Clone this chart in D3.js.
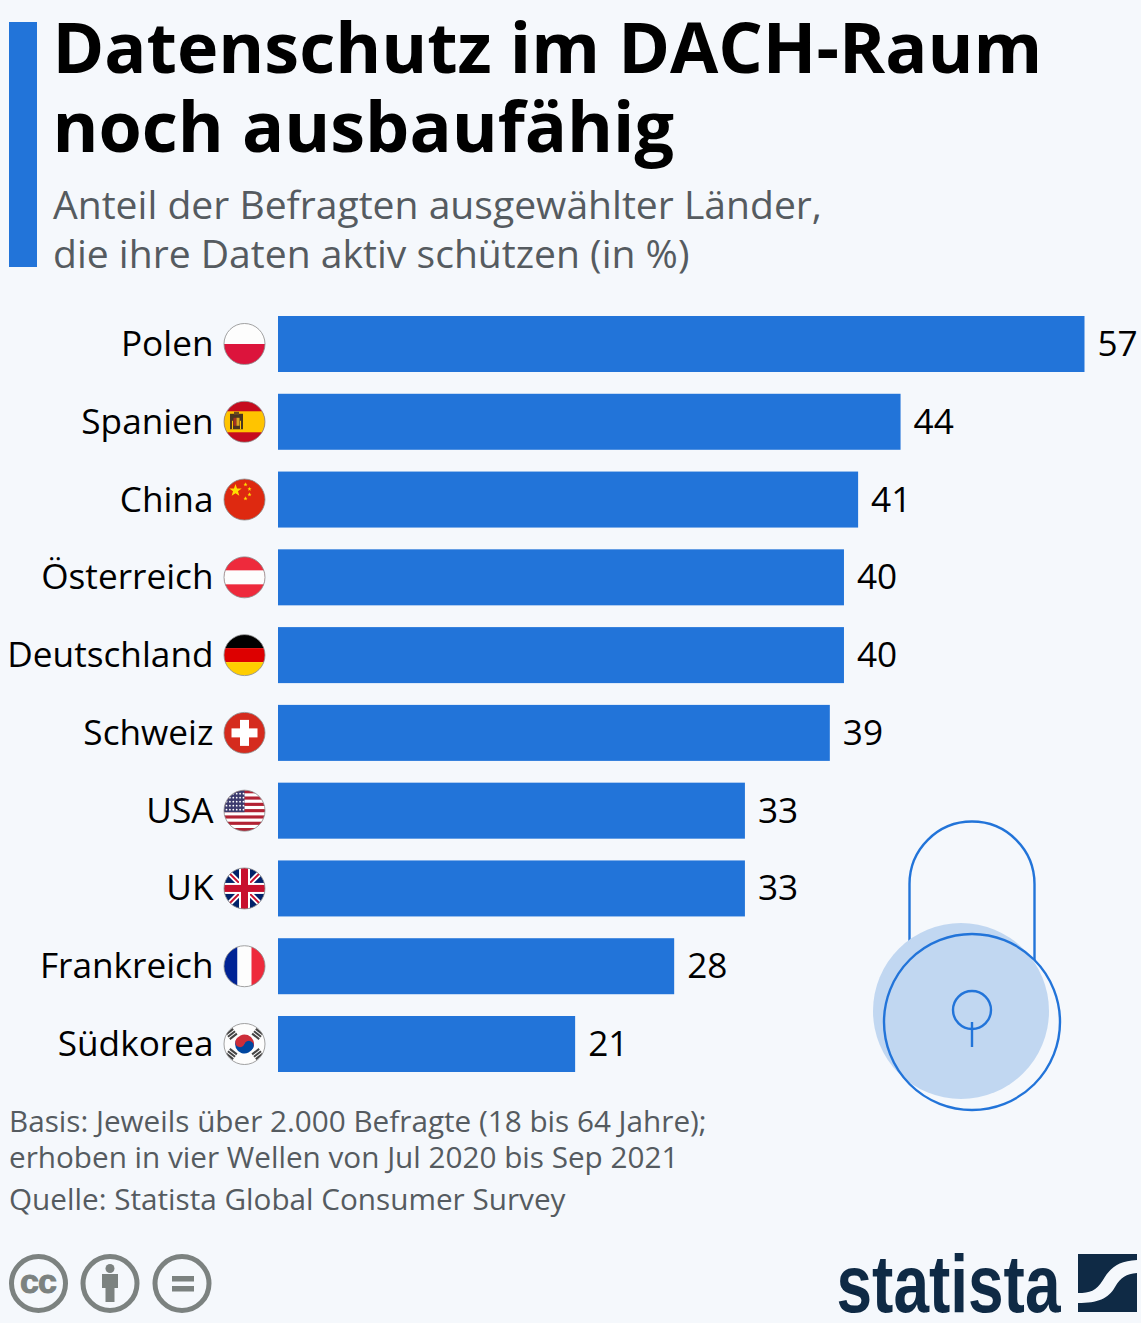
<!DOCTYPE html>
<html>
<head>
<meta charset="utf-8">
<script src="https://cdn.jsdelivr.net/npm/d3@7"></script>
<style>
  html, body { margin: 0; padding: 0; background: #f5f8fc; }
  svg { display: block; font-family: "Open Sans", sans-serif; }
</style>
</head>
<body>
<div id="chart"></div>
<script>
const countries = ['Polen', 'Spanien', 'China', 'Österreich', 'Deutschland', 'Schweiz', 'USA', 'UK', 'Frankreich', 'Südkorea']
const shares = [57, 44, 41, 40, 40, 39, 33, 33, 28, 21]
const flagCodes = ['pl', 'es', 'cn', 'at', 'de', 'ch', 'us', 'uk', 'fr', 'kr']
const titleLines = ['Datenschutz im DACH-Raum', 'noch ausbaufähig']
const subtitleLines = ['Anteil der Befragten ausgewählter Länder,', 'die ihre Daten aktiv schützen (in %)']
const noteLines = ['Basis: Jeweils über 2.000 Befragte (18 bis 64 Jahre);', 'erhoben in vier Wellen von Jul 2020 bis Sep 2021']
const sourceLine = 'Quelle: Statista Global Consumer Survey'

const width = 1141
const height = 1323
const blue = '#2274d9'
const r = 20.5

const svg = d3.select('#chart').append('svg')
    .attr('width', width)
    .attr('height', height)

const xScale = d3.scaleLinear().domain([0, 57]).range([278, 1084.5])
const yScale = d3.scaleBand().domain(countries).range([316, 1072]).paddingInner(0.28)

// header
svg.append('rect').attr('x', 9).attr('y', 22).attr('width', 28).attr('height', 245).attr('fill', blue)

svg.selectAll('.title').data(titleLines).enter().append('text')
    .attr('class', 'title')
    .attr('x', 52.5)
    .attr('y', (d, i) => 72.5 + i * 79)
    .attr('font-size', 70)
    .attr('font-weight', 700)
    .attr('fill', '#000')
    .text(d => d)

svg.selectAll('.subtitle').data(subtitleLines).enter().append('text')
    .attr('class', 'subtitle')
    .attr('x', 53)
    .attr('y', (d, i) => 219 + i * 48.5)
    .attr('font-size', 39.1)
    .attr('fill', '#555b60')
    .text(d => d)

// lock goes below the bars
const lock = svg.append('g')
lock.append('path')
    .attr('d', 'M909.5 960 V884 A62.5 62.5 0 0 1 1034.5 884 V960')
    .attr('fill', 'none').attr('stroke', blue).attr('stroke-width', 2.4)
lock.append('circle').attr('cx', 961).attr('cy', 1011).attr('r', 88).attr('fill', '#c1d7f1')
lock.append('circle').attr('cx', 972).attr('cy', 1022).attr('r', 88).attr('fill', 'none').attr('stroke', blue).attr('stroke-width', 2.4)
lock.append('circle').attr('cx', 972).attr('cy', 1010).attr('r', 19).attr('fill', 'none').attr('stroke', blue).attr('stroke-width', 2.4)
lock.append('line').attr('x1', 972).attr('x2', 972).attr('y1', 1022).attr('y2', 1047).attr('stroke', blue).attr('stroke-width', 2.4)

// bars
svg.selectAll('.bar').data(countries).enter().append('rect')
    .attr('class', 'bar')
    .attr('x', xScale(0))
    .attr('y', d => yScale(d))
    .attr('width', (d, i) => xScale(shares[i]) - xScale(0))
    .attr('height', yScale.bandwidth())
    .attr('fill', blue)

svg.selectAll('.value').data(countries).enter().append('text')
    .attr('class', 'value')
    .attr('x', (d, i) => xScale(shares[i]) + 13)
    .attr('y', d => yScale(d) + yScale.bandwidth() / 2 + 12)
    .attr('font-size', 35.2)
    .attr('fill', '#000')
    .text((d, i) => shares[i])

svg.selectAll('.label').data(countries).enter().append('text')
    .attr('class', 'label')
    .attr('x', 213.5)
    .attr('y', d => yScale(d) + yScale.bandwidth() / 2 + 12)
    .attr('text-anchor', 'end')
    .attr('font-size', 35.2)
    .attr('fill', '#000')
    .text(d => d)

// flags, all drawn in a box of -r..r around the centre
const defs = svg.append('defs')
defs.append('clipPath').attr('id', 'flagClip').append('circle').attr('r', r)

function box(g, y0, y1, color, x0 = -r, x1 = r) {
  g.append('rect').attr('x', x0).attr('y', y0).attr('width', x1 - x0).attr('height', y1 - y0).attr('fill', color)
}

function star(g, cx, cy, size, color) {
  const points = d3.range(10).map(i => {
    const a = -Math.PI / 2 + i * Math.PI / 5
    const len = i % 2 ? size * 0.4 : size
    return [cx + len * Math.cos(a), cy + len * Math.sin(a)]
  })
  g.append('polygon').attr('points', points.join(' ')).attr('fill', color)
}

const flagDrawers = {
  pl(g) {
    box(g, -r, 0, '#fdfdfd')
    box(g, 0, r, '#dc143c')
  },
  es(g) {
    box(g, -r, r, '#c60b1e')
    box(g, -10.5, 10.5, '#ffc400')
    // coat of arms, only a rough dark shape at this size
    box(g, -8, 7.5, '#4a3520', -14.5, -1.5)
    box(g, -10, -7, '#6b4a20', -10.5, -5.5)
    box(g, -4, 4, '#a5301e', -11, -8)
    box(g, -4, 4, '#d9a520', -8, -5)
    box(g, -1, 7.5, '#ffc400', -12.5, -11.5)
    box(g, -1, 7.5, '#ffc400', -4.5, -3.5)
  },
  cn(g) {
    box(g, -r, r, '#de2910')
    star(g, -9, -9, 6.5, '#ffde00')
    star(g, 1, -15, 2.2, '#ffde00')
    star(g, 5, -10.5, 2.2, '#ffde00')
    star(g, 5, -5, 2.2, '#ffde00')
    star(g, 1, -1, 2.2, '#ffde00')
  },
  at(g) {
    box(g, -r, r, '#ee2a3c')
    box(g, -7, 7, '#fdfdfd')
  },
  de(g) {
    box(g, -r, -7, '#000')
    box(g, -7, 7, '#dd0000')
    box(g, 7, r, '#ffce00')
  },
  ch(g) {
    box(g, -r, r, '#d52b1e')
    box(g, -13, 13, '#fff', -4.5, 4.5)
    box(g, -4.5, 4.5, '#fff', -13, 13)
  },
  us(g) {
    box(g, -r, r, '#fff')
    d3.range(0, 13, 2).forEach(i => {
      box(g, -r + i * 41 / 13, -r + (i + 1) * 41 / 13, '#b22234')
    })
    box(g, -r, 1.5, '#3c3b6e', -r, 0)
    d3.range(5).forEach(row => d3.range(6).forEach(col => {
      g.append('circle').attr('cx', -18 + col * 3.4).attr('cy', -17 + row * 4).attr('r', 0.9).attr('fill', '#fff')
    }))
  },
  uk(g) {
    box(g, -r, r, '#012169')
    g.append('path').attr('d', `M${-r} ${-r} L${r} ${r} M${r} ${-r} L${-r} ${r}`).attr('stroke', '#fff').attr('stroke-width', 5.5)
    g.append('path').attr('d', `M${-r} ${-r} L${r} ${r} M${r} ${-r} L${-r} ${r}`).attr('stroke', '#c8102e').attr('stroke-width', 2)
    box(g, -5.5, 5.5, '#fff')
    box(g, -r, r, '#fff', -5.5, 5.5)
    box(g, -3.5, 3.5, '#c8102e')
    box(g, -r, r, '#c8102e', -3.5, 3.5)
  },
  fr(g) {
    box(g, -r, r, '#002395', -r, -7)
    box(g, -r, r, '#fdfdfd', -7, 7)
    box(g, -r, r, '#ee2a3c', 7, r)
  },
  kr(g) {
    box(g, -r, r, '#fdfdfd')
    const taegeuk = g.append('g').attr('transform', 'rotate(20)')
    taegeuk.append('path').attr('d', 'M-9.5 0 A9.5 9.5 0 0 1 9.5 0 Z').attr('fill', '#cd2e3a')
    taegeuk.append('path').attr('d', 'M-9.5 0 A9.5 9.5 0 0 0 9.5 0 Z').attr('fill', '#0047a0')
    taegeuk.append('circle').attr('cx', -4.75).attr('r', 4.75).attr('fill', '#cd2e3a')
    taegeuk.append('circle').attr('cx', 4.75).attr('r', 4.75).attr('fill', '#0047a0')
    ;[[-13, -10, 52], [13, -10, -52], [-13, 10, -52], [13, 10, 52]].forEach(t => {
      const trigram = g.append('g').attr('transform', `translate(${t[0]},${t[1]}) rotate(${t[2]})`)
      ;[-3, 0, 3].forEach(dx => {
        trigram.append('rect').attr('x', dx - 1).attr('y', -4.5).attr('width', 2).attr('height', 9).attr('fill', '#444')
      })
    })
  }
}

const flags = svg.selectAll('.flag').data(countries).enter().append('g')
    .attr('class', 'flag')
    .attr('transform', d => `translate(244.5,${yScale(d) + yScale.bandwidth() / 2})`)

flags.each(function (d, i) {
  const g = d3.select(this)
  flagDrawers[flagCodes[i]](g.append('g').attr('clip-path', 'url(#flagClip)'))
  g.append('circle').attr('r', r).attr('fill', 'none').attr('stroke', '#8a8a8a').attr('stroke-width', 0.8)
})

// footer notes
svg.selectAll('.note').data(noteLines).enter().append('text')
    .attr('class', 'note')
    .attr('x', 9)
    .attr('y', (d, i) => 1132 + i * 36)
    .attr('font-size', 29.7)
    .attr('fill', '#555b60')
    .text(d => d)

svg.append('text')
    .attr('x', 9)
    .attr('y', 1210)
    .attr('font-size', 29.7)
    .attr('fill', '#555b60')
    .text(sourceLine)

// cc icons
const iconGrey = '#7c8280'
const icons = svg.selectAll('.icon').data([38.5, 110, 182]).enter().append('g')
    .attr('class', 'icon')
    .attr('transform', d => `translate(${d},1283.5)`)
icons.append('circle').attr('r', 27).attr('fill', 'none').attr('stroke', iconGrey).attr('stroke-width', 5)

svg.append('text')
    .attr('x', 38)
    .attr('y', 1292.5)
    .attr('text-anchor', 'middle')
    .attr('font-family', '"Liberation Sans", sans-serif')
    .attr('font-size', 34)
    .attr('font-weight', 700)
    .attr('letter-spacing', -1)
    .attr('stroke', iconGrey)
    .attr('stroke-width', 1)
    .attr('fill', iconGrey)
    .text('cc')

svg.append('circle').attr('cx', 110).attr('cy', 1268.5).attr('r', 4.5).attr('fill', iconGrey)
svg.append('path')
    .attr('d', 'M102 1274 H118 V1288 H114.5 V1302 H105.5 V1288 H102 Z')
    .attr('fill', iconGrey)
svg.append('rect').attr('x', 172).attr('y', 1276).attr('width', 22).attr('height', 5.5).attr('fill', iconGrey)
svg.append('rect').attr('x', 172).attr('y', 1286).attr('width', 22).attr('height', 5.5).attr('fill', iconGrey)

// statista logo
const logoColor = '#0f2a45'
svg.append('text')
    .attr('x', 836.5)
    .attr('y', 1311.5)
    .attr('font-family', '"Liberation Sans Narrow", "Liberation Sans", sans-serif')
    .attr('font-size', 82)
    .attr('font-weight', 700)
    .attr('textLength', 224)
    .attr('lengthAdjust', 'spacingAndGlyphs')
    .attr('fill', logoColor)
    .text('statista')

svg.append('path')
    .attr('d', 'M1078 1254 H1137 V1260 C1118 1261 1110 1268 1103 1280 C1096 1291 1090 1293 1078 1293 Z')
    .attr('fill', logoColor)
svg.append('path')
    .attr('d', 'M1137 1273 V1312 H1078 V1303 C1098 1303 1108 1299 1115 1287 C1121 1277 1126 1274 1137 1273 Z')
    .attr('fill', logoColor)
</script>
</body>
</html>
